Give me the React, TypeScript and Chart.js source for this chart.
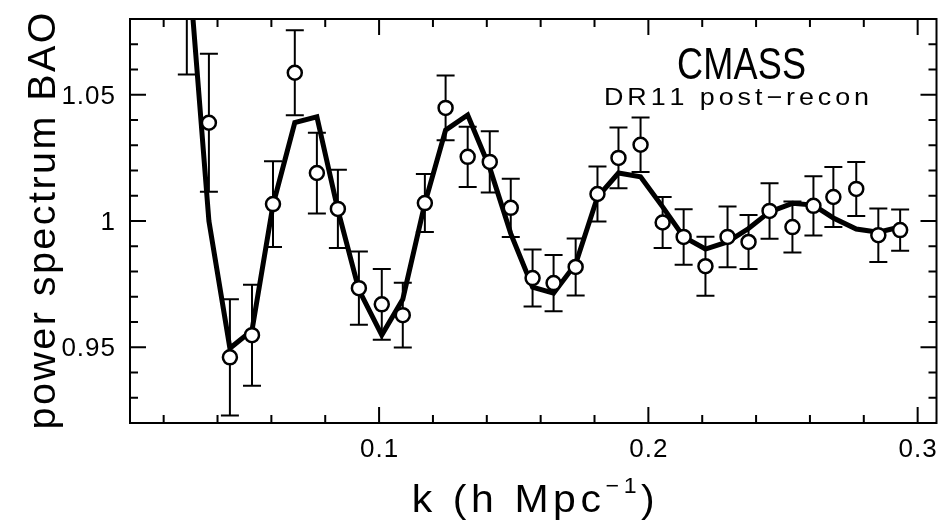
import { useEffect, useRef } from "react";
import { Chart, registerables } from "chart.js";

Chart.register(...registerables);

// ---- data ----
const kValues = [
  0.0286, 0.0368, 0.0446, 0.0528, 0.0606, 0.0687, 0.0769, 0.0847, 0.0925, 0.101,
  0.1088, 0.117, 0.1247, 0.1329, 0.1411, 0.1489, 0.157, 0.1648, 0.173, 0.1811,
  0.1889, 0.1971, 0.2053, 0.2131, 0.2212, 0.2294, 0.2372, 0.245, 0.2535, 0.2613,
  0.2687, 0.2772, 0.2854, 0.2935,
];
const powerValues = [
  1.1, 1.0389, 0.946, 0.9548, 1.0067, 1.0587, 1.019, 1.0048, 0.9734, 0.967,
  0.9627, 1.0071, 1.0448, 1.0254, 1.0234, 1.0052, 0.9774, 0.9754, 0.9818, 1.0107,
  1.025, 1.0302, 0.9994, 0.9937, 0.9821, 0.9937, 0.9917, 1.004, 0.9976, 1.006,
  1.0095, 1.0127, 0.9944, 0.9964,
];
const powerErrors = [
  0.042, 0.0273, 0.023, 0.02, 0.017, 0.0168, 0.016, 0.0155, 0.0145, 0.014,
  0.0128, 0.0115, 0.0128, 0.0119, 0.0121, 0.0115, 0.0113, 0.0111, 0.0113, 0.0109,
  0.012, 0.0108, 0.0101, 0.011, 0.0117, 0.012, 0.0107, 0.011, 0.0101, 0.0117,
  0.0119, 0.0107, 0.0106, 0.0082,
];
const modelValues = [
  1.111, 1.0, 0.9496, 0.9567, 1.0063, 1.039, 1.0413, 1.0044, 0.9727, 0.9548,
  0.969, 1.007, 1.036, 1.042, 1.021, 0.995, 0.9738, 0.9714, 0.983, 1.0095,
  1.019, 1.0175, 1.0056, 0.9937, 0.9889, 0.9917, 0.997, 1.0036, 1.007, 1.0063,
  1.0012, 0.9968, 0.9956, 0.9976,
];

const xMajorTicks = [0.1, 0.2, 0.3];
const xTickLabels = ["0.1", "0.2", "0.3"];
const xMinorTicks = [0.02, 0.04, 0.06, 0.08, 0.12, 0.14, 0.16, 0.18, 0.22, 0.24, 0.26, 0.28];
const yMajorTicks = [0.95, 1.0, 1.05];
const yTickLabels = ["0.95", "1", "1.05"];
const yMinorTicks = [0.93, 0.94, 0.96, 0.97, 0.98, 0.99, 1.01, 1.02, 1.03, 1.04, 1.06, 1.07];

const xTitleMain = "k (h Mpc";
const xTitleSup = "\u22121";
const xTitleEnd = ")";
const yTitle = "power spectrum BAO";
const labelMain = "CMASS";
const labelSub = "DR11 post\u2212recon";

const FAMILY = "'Liberation Sans', Arial, Helvetica, sans-serif";

type Seg = { text: string; size: number; dy?: number };
type RunOpts = { align: "left" | "center" | "right"; ls?: number; target?: number; sx?: number };

function drawRun(ctx: CanvasRenderingContext2D, segs: Seg[], x: number, baseline: number, opts: RunOpts) {
  const sx = opts.sx ?? 1;
  const items: { ch: string; font: string; w: number; dy: number }[] = [];
  for (const s of segs) {
    const font = `${s.size}px ${FAMILY}`;
    ctx.font = font;
    for (const ch of Array.from(s.text)) {
      items.push({ ch, font, w: ctx.measureText(ch).width * sx, dy: s.dy ?? 0 });
    }
  }
  const natural = items.reduce((a, b) => a + b.w, 0);
  let ls = opts.ls ?? 0;
  if (opts.target !== undefined && items.length > 1) ls = (opts.target - natural) / (items.length - 1);
  const total = natural + ls * (items.length - 1);
  let cx = x;
  if (opts.align === "center") cx = x - total / 2;
  else if (opts.align === "right") cx = x - total;
  ctx.textAlign = "left";
  ctx.textBaseline = "alphabetic";
  for (const it of items) {
    ctx.font = it.font;
    ctx.save();
    ctx.translate(cx, baseline - it.dy);
    ctx.scale(sx, 1);
    ctx.fillText(it.ch, 0, 0);
    ctx.restore();
    cx += it.w + ls;
  }
}

const errorBarPlugin = {
  id: "errorBars",
  beforeDatasetDraw(chart: any, args: any) {
    if (args.index !== 0) return;
    const { ctx, chartArea, scales } = chart;
    ctx.save();
    ctx.beginPath();
    ctx.rect(chartArea.left, chartArea.top, chartArea.right - chartArea.left, chartArea.bottom - chartArea.top);
    ctx.clip();
    ctx.strokeStyle = "#000";
    ctx.lineWidth = 2;
    const cap = 9;
    kValues.forEach((k, i) => {
      const px = scales.x.getPixelForValue(k);
      const yTop = scales.y.getPixelForValue(powerValues[i] + powerErrors[i]);
      const yBot = scales.y.getPixelForValue(powerValues[i] - powerErrors[i]);
      ctx.beginPath();
      ctx.moveTo(px, yTop);
      ctx.lineTo(px, yBot);
      ctx.moveTo(px - cap, yTop);
      ctx.lineTo(px + cap, yTop);
      ctx.moveTo(px - cap, yBot);
      ctx.lineTo(px + cap, yBot);
      ctx.stroke();
    });
    ctx.restore();
  },
};

const framePlugin = {
  id: "frame",
  afterDraw(chart: any) {
    const { ctx, chartArea, scales } = chart;
    const { left, right, top, bottom } = chartArea;
    ctx.save();
    ctx.strokeStyle = "#000";
    ctx.fillStyle = "#000";
    ctx.lineWidth = 2;
    ctx.strokeRect(left, top, right - left, bottom - top);

    const major = 16;
    const minor = 8;
    ctx.beginPath();
    const xt = (v: number, len: number) => {
      const px = scales.x.getPixelForValue(v);
      ctx.moveTo(px, bottom);
      ctx.lineTo(px, bottom - len);
      ctx.moveTo(px, top);
      ctx.lineTo(px, top + len);
    };
    const yt = (v: number, len: number) => {
      const py = scales.y.getPixelForValue(v);
      ctx.moveTo(left, py);
      ctx.lineTo(left + len, py);
      ctx.moveTo(right, py);
      ctx.lineTo(right - len, py);
    };
    xMajorTicks.forEach((v) => xt(v, major));
    xMinorTicks.forEach((v) => xt(v, minor));
    yMajorTicks.forEach((v) => yt(v, major));
    yMinorTicks.forEach((v) => yt(v, minor));
    ctx.stroke();

    // tick labels
    xMajorTicks.forEach((v, i) => {
      drawRun(ctx, [{ text: xTickLabels[i], size: 26 }], scales.x.getPixelForValue(v), bottom + 34, { align: "center", ls: 1 });
    });
    yMajorTicks.forEach((v, i) => {
      drawRun(ctx, [{ text: yTickLabels[i], size: 26 }], left - 15, scales.y.getPixelForValue(v) + 9, { align: "right", ls: 1 });
    });

    // axis titles
    const cxArea = (left + right) / 2;
    const cyArea = (top + bottom) / 2;
    drawRun(
      ctx,
      [
        { text: xTitleMain, size: 39 },
        { text: xTitleSup, size: 22, dy: 19 },
        { text: xTitleEnd, size: 39 },
      ],
      cxArea,
      bottom + 89,
      { align: "center", target: 243, sx: 1.05 }
    );
    ctx.save();
    ctx.translate(55, cyArea);
    ctx.rotate(-Math.PI / 2);
    drawRun(ctx, [{ text: yTitle, size: 38 }], 0, 0, { align: "center", target: 417, sx: 1.04 });
    ctx.restore();

    // annotation
    drawRun(ctx, [{ text: labelMain, size: 44 }], right - 195, top + 60, { align: "center", target: 129, sx: 0.82 });
    drawRun(ctx, [{ text: labelSub, size: 24 }], right - 200, top + 86, { align: "center", target: 265, sx: 1.12 });
    ctx.restore();
  },
};

export default function App() {
  const ref = useRef<HTMLCanvasElement>(null);
  useEffect(() => {
    document.body.style.margin = "0";
    const canvas = ref.current!;
    const chart = new Chart(canvas, {
      type: "scatter",
      data: {
        datasets: [
          {
            label: "data",
            data: kValues.map((k, i) => ({ x: k, y: powerValues[i] })),
            pointRadius: 7,
            pointHoverRadius: 7,
            pointBackgroundColor: "#ffffff",
            pointBorderColor: "#000000",
            pointBorderWidth: 2.5,
            showLine: false,
            order: 0,
          },
          {
            label: "model",
            data: kValues.map((k, i) => ({ x: k, y: modelValues[i] })),
            showLine: true,
            borderColor: "#000000",
            borderWidth: 5,
            pointRadius: 0,
            pointHoverRadius: 0,
            tension: 0,
            fill: false,
            clip: 0,
            order: 1,
          },
        ],
      } as any,
      options: {
        animation: false,
        responsive: false,
        devicePixelRatio: 1,
        events: [],
        layout: { padding: { left: 130, top: 19, right: 9, bottom: 98 } },
        scales: {
          x: { type: "linear", min: 0.0075, max: 0.307, display: false },
          y: { type: "linear", min: 0.92, max: 1.08, display: false },
        },
        plugins: { legend: { display: false }, tooltip: { enabled: false } },
      },
      plugins: [errorBarPlugin, framePlugin],
    });
    return () => chart.destroy();
  }, []);
  return <canvas ref={ref} width={946} height={521} style={{ display: "block" }} />;
}
